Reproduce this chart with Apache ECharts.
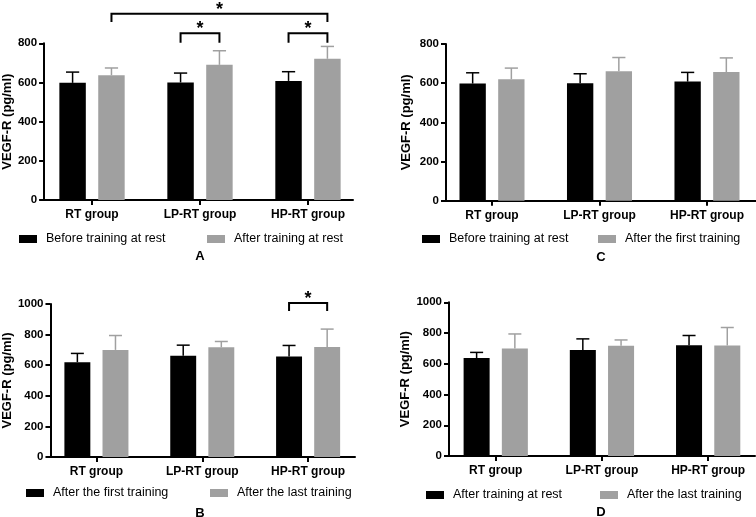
<!DOCTYPE html>
<html>
<head>
<meta charset="utf-8">
<script src="https://cdn.jsdelivr.net/npm/echarts@6/dist/echarts.min.js"></script>
<style>html,body{margin:0;padding:0;background:#fff}#c{width:756px;height:517px}</style>
</head>
<body>
<div id="c"></div>
<script>
// ---- data ----
const groups = ['RT group', 'LP-RT group', 'HP-RT group'];
const yTicksA = [0, 200, 400, 600, 800];
const yTicksB = [0, 200, 400, 600, 800, 1000];
// mean and SD (pg/ml)
const beforeRestMean = [598, 600, 608];
const beforeRestSD   = [55, 48, 47];
const afterRestMean  = [637, 690, 721];
const afterRestSD    = [37, 72, 63];
const afterFirstMean = [620, 661, 657];
const afterFirstSD   = [57, 70, 72];
const afterLastMean  = [700, 717, 719];
const afterLastSD    = [94, 38, 117];

const nBefore = 'Before training at rest';
const nAfterRest = 'After training at rest';
const nFirst = 'After the first training';
const nLast = 'After the last training';

// ---- layout ----
const FONT = 'Liberation Sans';
const BLACK = '#000000', GRAY = '#a0a0a0';
const OFF = 0.18, BARW = 0.245;

const panels = [
  { id: 'A', grid: {left: 44, width: 309, top: 43.3, height: 156.7}, xmin: -0.444, xmax: 2.417, ticks: yTicksA,
    s1: [nBefore, beforeRestMean, beforeRestSD], s2: [nAfterRest, afterRestMean, afterRestSD], nameGap: 30,
    legendTop: 232, leg1: 19, leg2: 207, letter: [200, 256],
    brackets: [[1, -1, 1, 1, 851, 9.5], [2, -1, 2, 1, 851, 9.5], [0, 1, 2, 1, 951, 8.4]] },
  { id: 'B', grid: {left: 50, width: 305, top: 304, height: 153}, xmin: -0.434, xmax: 2.443, ticks: yTicksB,
    s1: [nFirst, afterFirstMean, afterFirstSD], s2: [nLast, afterLastMean, afterLastSD], nameGap: 36,
    legendTop: 486, leg1: 26, leg2: 210, letter: [200, 513],
    brackets: [[2, -1, 2, 1, 1006, 8]] },
  { id: 'C', grid: {left: 446, width: 310, top: 44, height: 156.7}, xmin: -0.428, xmax: 2.456, ticks: yTicksA,
    s1: [nBefore, beforeRestMean, beforeRestSD], s2: [nFirst, afterFirstMean, afterFirstSD], nameGap: 33,
    legendTop: 232, leg1: 422, leg2: 598, letter: [601, 257], brackets: [] },
  { id: 'D', grid: {left: 449, width: 306, top: 302.3, height: 153.7}, xmin: -0.44, xmax: 2.441, ticks: yTicksB,
    s1: [nAfterRest, afterRestMean, afterRestSD], s2: [nLast, afterLastMean, afterLastSD], nameGap: 37,
    legendTop: 488, leg1: 426, leg2: 600, letter: [601, 512], brackets: [] }
];

function barRender(side, color) {
  return function (params, api) {
    const x = api.value(0), m = api.value(1), sd = api.value(2);
    const cx = api.coord([x + side * OFF, 0])[0];
    const unit = api.size([1, 0])[0];
    const w = BARW * unit;
    const yTop = api.coord([x, m])[1];
    const y0 = api.coord([x, 0])[1];
    const yErr = api.coord([x, m + sd])[1];
    return { type: 'group', children: [
      { type: 'line', shape: {x1: cx, y1: yTop, x2: cx, y2: yErr}, style: {stroke: color, lineWidth: 1.5} },
      { type: 'line', shape: {x1: cx - w / 4, y1: yErr, x2: cx + w / 4, y2: yErr}, style: {stroke: color, lineWidth: 1.5} },
      { type: 'rect', shape: {x: cx - w / 2, y: yTop, width: w, height: y0 - yTop}, style: {fill: color} }
    ]};
  };
}

function bracketRender(params, api) {
  const g1 = api.value(0), s1 = api.value(1), g2 = api.value(2), s2 = api.value(3), lvl = api.value(4), drop = api.value(5);
  const p1 = api.coord([g1 + s1 * OFF, lvl]);
  const p2 = api.coord([g2 + s2 * OFF, lvl]);
  return { type: 'group', children: [
    { type: 'polyline', shape: {points: [[p1[0], p1[1] + drop], [p1[0], p1[1]], [p2[0], p2[1]], [p2[0], p2[1] + drop]]},
      style: {stroke: '#000', lineWidth: 2, fill: null} },
    { type: 'text', x: (p1[0] + p2[0]) / 2, y: p1[1] - 4,
      style: {text: '*', font: 'bold 18px ' + FONT, fill: '#000', align: 'center', verticalAlign: 'middle'} }
  ]};
}

const grid = [], xAxis = [], yAxis = [], series = [], legend = [], graphic = [];
panels.forEach((p, i) => {
  grid.push(p.grid);
  xAxis.push({
    type: 'value', gridIndex: i, min: p.xmin, max: p.xmax,
    splitLine: {show: false},
    axisLine: {show: true, onZero: false, lineStyle: {color: '#000', width: 2}},
    axisTick: {show: true, customValues: [0, 1, 2], length: 5, lineStyle: {color: '#000', width: 2}},
    axisLabel: {customValues: [0, 1, 2], formatter: v => groups[Math.round(v)], color: '#000',
      fontWeight: 'bold', fontSize: 12, fontFamily: FONT, margin: 9}
  });
  yAxis.push({
    type: 'value', gridIndex: i, min: p.ticks[0], max: p.ticks[p.ticks.length - 1], interval: p.ticks[1] - p.ticks[0],
    splitLine: {show: false},
    name: 'VEGF-R (pg/ml)', nameLocation: 'middle', nameGap: p.nameGap,
    nameTextStyle: {fontWeight: 'bold', fontSize: 13, fontFamily: FONT, color: '#000'},
    axisLine: {show: true, onZero: false, lineStyle: {color: '#000', width: 2}},
    axisTick: {show: true, length: 5, lineStyle: {color: '#000', width: 2}},
    axisLabel: {color: '#000', fontWeight: 'bold', fontSize: 11.5, fontFamily: FONT, margin: 7,
      formatter: v => String(v)}
  });
  const n1 = p.id + '|' + p.s1[0], n2 = p.id + '|' + p.s2[0];
  series.push({
    type: 'custom', name: n1, xAxisIndex: i, yAxisIndex: i, clip: false,
    itemStyle: {color: BLACK}, renderItem: barRender(-1, BLACK),
    encode: {x: 0, y: 1}, data: p.s1[1].map((m, k) => [k, m, p.s1[2][k]])
  });
  series.push({
    type: 'custom', name: n2, xAxisIndex: i, yAxisIndex: i, clip: false,
    itemStyle: {color: GRAY}, renderItem: barRender(1, GRAY),
    encode: {x: 0, y: 1}, data: p.s2[1].map((m, k) => [k, m, p.s2[2][k]])
  });
  if (p.brackets.length) {
    series.push({
      type: 'custom', xAxisIndex: i, yAxisIndex: i, clip: false, silent: true,
      renderItem: bracketRender, encode: {x: 0, y: 4}, data: p.brackets
    });
  }
  [[n1, p.leg1], [n2, p.leg2]].forEach(([nm, lft]) => {
    legend.push({
      data: [nm], left: lft, top: p.legendTop, padding: 0, icon: 'rect', itemWidth: 18, itemHeight: 8,
      selectedMode: false, formatter: s => s.split('|')[1],
      textStyle: {fontSize: 12.5, fontFamily: FONT, color: '#000', padding: [0, 0, 0, 4], lineHeight: 14}
    });
  });
  graphic.push({ type: 'text', x: p.letter[0], y: p.letter[1],
    style: {text: p.id, font: 'bold 13px ' + FONT, fill: '#000', align: 'center', verticalAlign: 'middle'} });
});

const chart = echarts.init(document.getElementById('c'), null, {renderer: 'canvas'});
chart.setOption({
  animation: false, backgroundColor: '#fff',
  grid, xAxis, yAxis, series, legend, graphic
});
</script>
</body>
</html>
